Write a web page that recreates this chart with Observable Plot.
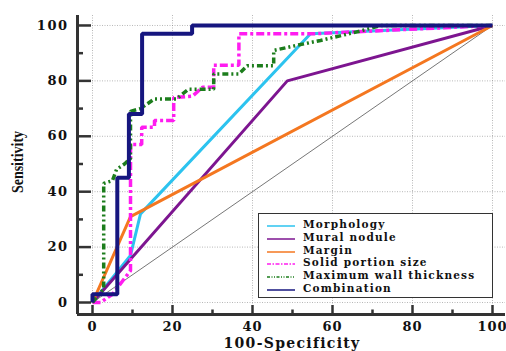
<!DOCTYPE html>
<html>
<head>
<meta charset="utf-8">
<script src="https://cdn.jsdelivr.net/npm/d3@7"></script>
<script src="https://cdn.jsdelivr.net/npm/@observablehq/plot@0.6"></script>
<style>
  html, body { margin: 0; padding: 0; background: #fff; }
  #wrap { position: relative; width: 506px; height: 351px; overflow: hidden; }
  #legend { position: absolute; left: 258px; top: 213px; width: 233px; height: 83px;
            border: 1.5px solid #333; background: #fff; box-sizing: content-box; }
  .item { position: absolute; left: 0; height: 12px; width: 230px; }
  .item svg { position: absolute; left: 8px; top: 3px; }
  .item span { position: absolute; left: 44px; top: -2px; font-family: "DejaVu Serif", serif;
               font-weight: bold; font-size: 10.5px; letter-spacing: 1.2px; color: #111; white-space: nowrap; }
  .title { position: absolute; font-family: "DejaVu Serif", serif; font-weight: bold; color: #111; white-space: nowrap; }
</style>
</head>
<body>
<div id="wrap"></div>
<script>
// ---- data ----
const seriesNames = ["Morphology", "Mural nodule", "Margin", "Solid portion size", "Maximum wall thickness", "Combination"];
const seriesColors = ["#2cc3ef", "#7d1590", "#f47720", "#ff1cf0", "#1c7d1c", "#16167f"];
const seriesWidths = [3, 3, 3, 3.5, 3.5, 4];
const seriesDash = [null, null, null, "8,3,3,3", "6,3,2,3,2,3", null];

const morphologyX = [0, 9.5, 12, 54.5, 100];
const morphologyY = [0, 17, 32, 97, 100];
const muralX = [0, 48.7, 100];
const muralY = [0, 80, 100];
const marginX = [0, 9.5, 100];
const marginY = [0, 31, 100];
const solidX = [0, 2, 5, 9.5, 9.5, 12.3, 12.3, 15.5, 15.5, 20.3, 20.3, 25, 27.5, 30.3, 30.3, 36.6, 36.6, 55, 100];
const solidY = [0, 0, 3, 11.5, 57, 57, 63.3, 63.3, 65.7, 65.7, 74, 74.5, 77.7, 77.7, 85.6, 85.6, 97, 97, 100];
const wallX = [0, 2.8, 2.8, 5, 6, 8, 9.5, 9.5, 12, 15.5, 21, 24, 30.3, 30.3, 36.6, 38.7, 45.3, 45.3, 51, 57, 67, 72, 100];
const wallY = [0, 5, 43, 44, 48, 50, 52, 69, 70, 73.5, 73.5, 77, 77, 82.5, 82.5, 85.5, 85.5, 91, 92.8, 94.6, 98, 100, 100];
const comboX = [0, 0, 6.2, 6.2, 9.1, 9.1, 12.4, 12.4, 24.9, 24.9, 100];
const comboY = [0, 3, 3, 45, 45, 68, 68, 97, 97, 100, 100];
const diagX = [0, 100];
const diagY = [0, 100];

const xTicks = [0, 20, 40, 60, 80, 100];
const xMinor = [10, 30, 50, 70, 90];
const yTicks = [0, 20, 40, 60, 80, 100];
const yMinor = [10, 30, 50, 70, 90];
const xLabel = "100-Specificity";
const yLabel = "Sensitivity";

// ---- build ----
const seriesX = [morphologyX, muralX, marginX, solidX, wallX, comboX];
const seriesY = [morphologyY, muralY, marginY, solidY, wallY, comboY];
const toRows = (xs, ys) => xs.map((x, i) => ({x, y: ys[i]}));

const xMin = -3.75, xMax = 103.25, yMin = -4.33, yMax = 103.6;
const pxX = 4, pxY = 2.77; // pixels per unit (for tick lengths)

const lineMarks = seriesNames.map((name, i) =>
  Plot.line(toRows(seriesX[i], seriesY[i]), {
    x: "x", y: "y", stroke: seriesColors[i], strokeWidth: seriesWidths[i],
    strokeDasharray: seriesDash[i] || undefined, strokeLinejoin: "miter", strokeLinecap: "butt"
  })
);

const chart = Plot.plot({
  width: 506, height: 351,
  marginLeft: 77, marginRight: 1, marginTop: 15, marginBottom: 37,
  x: {domain: [xMin, xMax]},
  y: {domain: [yMin, yMax]},
  style: {fontFamily: "DejaVu Serif", background: "#fff", color: "#111", overflow: "visible"},
  marks: [
    Plot.gridX(xTicks, {stroke: "#888", strokeOpacity: 0.6, strokeDasharray: "1,1.5"}),
    Plot.gridY(yTicks, {stroke: "#888", strokeOpacity: 0.6, strokeDasharray: "1,1.5"}),
    Plot.line(toRows(diagX, diagY), {x: "x", y: "y", stroke: "#777", strokeWidth: 1}),
    ...lineMarks,
    Plot.ruleX([xMin], {stroke: "#333", strokeWidth: 3}),
    Plot.ruleY([yMin], {stroke: "#333", strokeWidth: 3}),
    Plot.ruleX(xTicks, {x: d => d, y1: yMin, y2: yMin + 9 / pxY, stroke: "#333", strokeWidth: 2.5}),
    Plot.ruleX(xMinor, {x: d => d, y1: yMin, y2: yMin + 4.5 / pxY, stroke: "#333", strokeWidth: 2.5}),
    Plot.ruleY(yTicks, {y: d => d, x1: xMin, x2: xMin + 14 / pxX, stroke: "#333", strokeWidth: 2.5}),
    Plot.ruleY(yMinor, {y: d => d, x1: xMin, x2: xMin + 6 / pxX, stroke: "#333", strokeWidth: 2.5}),
    Plot.axisX(xTicks, {tickSize: 0, tickPadding: 7, label: null, fontSize: 13, fontWeight: "bold", fill: "#111"}),
    Plot.axisY(yTicks, {tickSize: 0, tickPadding: 9, label: null, fontSize: 13, fontWeight: "bold", fill: "#111"})
  ]
});
d3.select(chart).selectAll("g[aria-label='x-axis tick label'] text")
  .style("letter-spacing", "1px");
d3.select(chart).selectAll("g[aria-label='y-axis tick label'] text")
  .style("letter-spacing", "1.5px");

const wrap = document.getElementById("wrap");
wrap.appendChild(chart);

// axis titles
const xt = document.createElement("div");
xt.className = "title";
xt.textContent = xLabel;
xt.style.cssText += "font-size:14px;letter-spacing:1.3px;left:292px;top:335px;transform:translateX(-50%);";
wrap.appendChild(xt);

const yt = document.createElement("div");
yt.className = "title";
yt.textContent = yLabel;
yt.style.cssText += "font-family:'Liberation Serif',serif;font-weight:bold;font-size:14px;left:18px;top:162px;transform:translate(-50%,-50%) rotate(-90deg) scale(1,1.2);";
wrap.appendChild(yt);

// legend
const legend = document.createElement("div");
legend.id = "legend";
seriesNames.forEach((name, i) => {
  const it = document.createElement("div");
  it.className = "item";
  it.style.top = (6 + i * 12.8) + "px";
  it.innerHTML = `<svg width="28" height="6"><line x1="0" y1="3" x2="28" y2="3" stroke="${seriesColors[i]}" stroke-width="1.5" ${seriesDash[i] ? `stroke-dasharray="${seriesDash[i].split(",").map(v => v / 2).join(",")}"` : ""}/></svg><span>${name}</span>`;
  legend.appendChild(it);
});
wrap.appendChild(legend);
</script>
</body>
</html>
